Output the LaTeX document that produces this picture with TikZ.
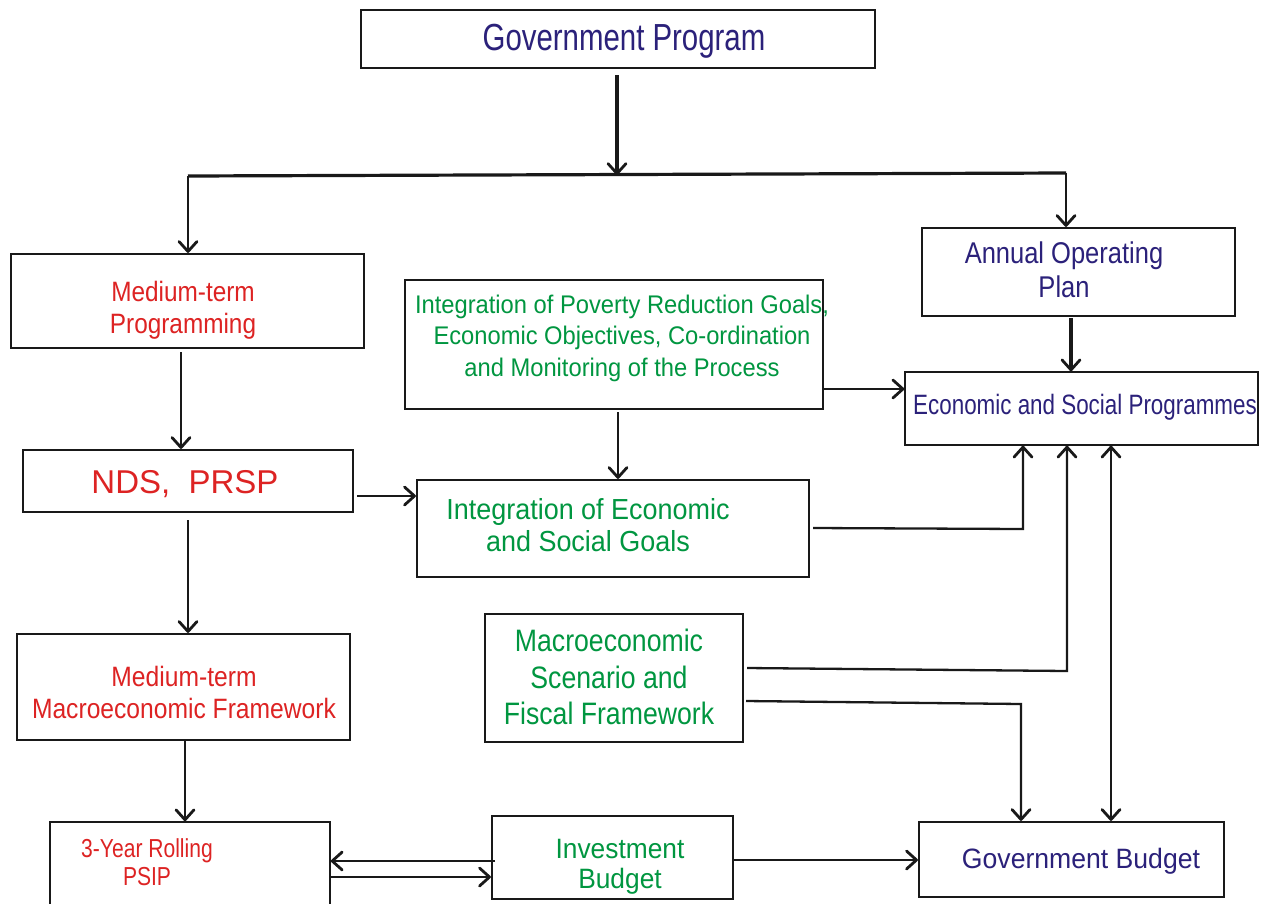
\documentclass[tikz,border=0pt]{standalone}
\usepackage{fontspec}
\usepackage{graphicx}
\setmainfont{Liberation Sans}
\usetikzlibrary{arrows.meta}
\definecolor{navy}{RGB}{43,33,122}
\definecolor{tred}{RGB}{221,35,35}
\definecolor{tgreen}{RGB}{0,150,64}
\newcommand\sx[2]{\scalebox{#1}[1]{#2}}
\newcommand\fs[2]{\fontsize{#1}{#2}\selectfont}
\tikzset{
  box/.style={draw=black!90, line width=2.2pt, inner sep=0pt, rectangle},
  txt/.style={inner sep=0pt, align=center},
  conn/.style={draw=black!90, line width=2.3pt},
  tip/.tip={Straight Barb[length=10pt,width=18pt,line width=2.8pt,round]},
  arr/.style={conn, -tip},
  darr/.style={conn, tip-tip}
}
\begin{document}
\begin{tikzpicture}[x=1pt,y=-1pt]
\useasboundingbox (0,0) rectangle (1264,903);
\clip (0,0) rectangle (1264,903);
\fill[white] (0,0) rectangle (1264,903);
% boxes
\node[box, minimum width=514pt, minimum height=58pt] (gp) at (618,39) {};
\node[box, minimum width=353pt, minimum height=94pt] (mtp) at (187.5,301) {};
\node[box, minimum width=418pt, minimum height=129pt] (ipg) at (614,344.5) {};
\node[box, minimum width=313pt, minimum height=88pt] (aop) at (1078.5,272) {};
\node[box, line width=1.4pt, minimum width=353pt, minimum height=73pt] (esp) at (1081.5,408.5) {};
\node[box, minimum width=330pt, minimum height=62pt] (nds) at (188,481) {};
\node[box, minimum width=392pt, minimum height=97pt] (ieg) at (613,528.5) {};
\node[box, minimum width=258pt, minimum height=128pt] (mse) at (614,678) {};
\node[box, minimum width=333pt, minimum height=106pt] (mtmf) at (183.5,687) {};
\node[box, line width=1.6pt, minimum width=280pt, minimum height=90pt] (psip) at (190,867) {};
\node[box, minimum width=241pt, minimum height=83pt] (ib) at (612.5,857.5) {};
\node[box, minimum width=305pt, minimum height=75pt] (gb) at (1071.5,859.5) {};
% texts
\node[txt, text=navy, font=\fs{37.7}{40}] (gpt) at (624,41) {\sx{0.78}{Government Program}};
\node[txt, text=tred, font=\fs{28}{32}] (mtpt) at (183,310) {\sx{0.87}{Medium-term}\\\sx{0.87}{Programming}};
\node[txt, text=tgreen, font=\fs{25.5}{31.5}] (ipgt) at (622,338) {\sx{0.93}{Integration of Poverty Reduction Goals,}\\\sx{0.93}{Economic Objectives, Co-ordination}\\\sx{0.93}{and Monitoring of the Process}};
\node[txt, text=navy, font=\fs{30}{34}] (aopt) at (1064,270) {\sx{0.85}{Annual Operating}\\\sx{0.85}{Plan}};
\node[txt, text=navy, font=\fs{28}{32}, anchor=west] (espt) at (913,407) {\sx{0.8}{Economic and Social Programmes}};
\node[txt, text=tred, font=\fs{33}{36}] (ndst) at (185,484) {NDS,\ \ PRSP};
\node[txt, text=tgreen, font=\fs{29}{32}] (iegt) at (588,525) {\sx{0.93}{Integration of Economic}\\\sx{0.93}{and Social Goals}};
\node[txt, text=tgreen, font=\fs{31}{36.5}] (mset) at (609,677) {\sx{0.86}{Macroeconomic}\\\sx{0.86}{Scenario and}\\\sx{0.86}{Fiscal Framework}};
\node[txt, text=tred, font=\fs{28}{32}] (mtmft) at (184,692) {\sx{0.88}{Medium-term}\\\sx{0.88}{Macroeconomic Framework}};
\node[txt, text=tred, font=\fs{26}{28}] (psipt) at (147,862) {\sx{0.81}{3-Year Rolling}\\\sx{0.81}{PSIP}};
\node[txt, text=tgreen, font=\fs{28}{30}] (ibt) at (620,867) {\sx{0.94}{Investment}\\\sx{0.94}{Budget}};
\node[txt, text=navy, font=\fs{28}{30}] (gbt) at (1081,861) {\sx{0.95}{Government Budget}};
% connectors
\coordinate (j) at (617,175);
\coordinate (jl) at (188,176);
\coordinate (jr) at (1066,173);
\coordinate (ja) at (1071,318);
\draw[arr, line width=3.2pt] ([yshift=-6pt]gp.south -| j) -- (j);
\draw[conn, line width=3.2pt] (jl) -- (jr);
\draw[arr] (jl) -- (jl |- mtp.north);
\draw[arr] (jr) -- (jr |- aop.north);
\draw[arr, line width=3.2pt] (ja) -- (ja |- esp.north);
\draw[arr] (ipg.east |- 0,389) -- (esp.west |- 0,389);
\draw[arr] (181,352) -- (181,0 |- nds.north);
\draw[arr] (357,496) -- (ieg.west |- 0,496);
\draw[arr] (618,412) -- (618,0 |- ieg.north);
\coordinate (c1) at (1023,529);
\draw[arr] (813,528) -- (c1) -- (c1 |- esp.south);
\draw[arr] (188,520) -- (188,0 |- mtmf.north);
\draw[arr] (185,0 |- mtmf.south) -- (185,0 |- psip.north);
\coordinate (c2) at (1067,671);
\draw[arr] (747,668) -- (c2) -- (c2 |- esp.south);
\coordinate (c3) at (1021,704);
\draw[arr] (746,701) -- (c3) -- (c3 |- gb.north);
\draw[darr] (1111,0 |- esp.south) -- (1111,0 |- gb.north);
\draw[arr] (495,861) -- (psip.east |- 0,861);
\draw[arr] (psip.east |- 0,877) -- (ib.west |- 0,877);
\draw[arr] (ib.east |- 0,860) -- (gb.west |- 0,860);
\end{tikzpicture}
\end{document}
